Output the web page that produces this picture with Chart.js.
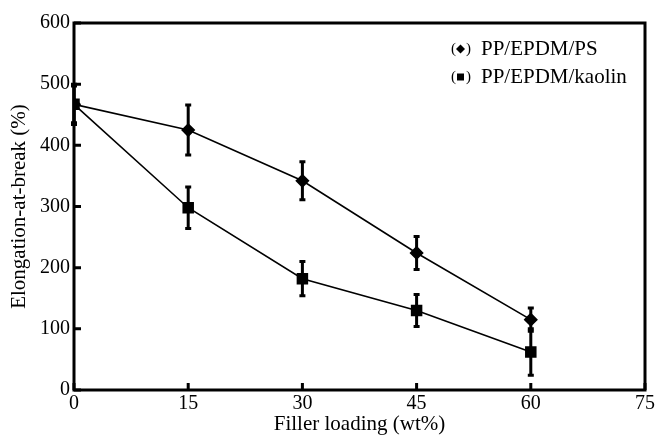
<!DOCTYPE html>
<html lang="en">
<head>
<meta charset="UTF-8">
<title>Elongation-at-break</title>
<script src="https://cdn.jsdelivr.net/npm/chart.js"></script>
<style>
  html, body { margin: 0; padding: 0; background: #fff; }
  #wrap { width: 658px; height: 437px; }
</style>
</head>
<body>
<div id="wrap"><canvas id="chart" width="658" height="437"></canvas></div>
<script>
// filler loading (wt%)
const loading = [0, 15, 30, 45, 60];
const psValues = [467, 425, 342, 224, 115];
const psErrors = [33, 41, 31, 27, 19];
const kaolinValues = [467, 298, 182, 130, 62];
const kaolinErrors = [30, 34, 28, 26, 38];
const xTicks = [0, 15, 30, 45, 60, 75];
const yTicks = [0, 100, 200, 300, 400, 500, 600];

const FONT = 'Liberation Serif, Times New Roman, serif';

// error bars, inward ticks, frame and legend
const extras = {
  id: 'extras',
  afterDatasetsDraw(chart) {
    const ctx = chart.ctx;
    const x = chart.scales.x, y = chart.scales.y;
    const a = chart.chartArea;
    ctx.save();
    ctx.strokeStyle = '#000';
    ctx.lineWidth = 3;
    // error bars
    const bars = [[psValues, psErrors], [kaolinValues, kaolinErrors]];
    bars.forEach(([vals, errs]) => {
      vals.forEach((v, i) => {
        const px = x.getPixelForValue(loading[i]);
        const top = y.getPixelForValue(v + errs[i]);
        const bot = y.getPixelForValue(v - errs[i]);
        ctx.beginPath();
        ctx.moveTo(px, top); ctx.lineTo(px, bot);
        ctx.moveTo(px - 3, top); ctx.lineTo(px + 3, top);
        ctx.moveTo(px - 3, bot); ctx.lineTo(px + 3, bot);
        ctx.stroke();
      });
    });
    // inward ticks
    ctx.beginPath();
    xTicks.forEach(t => {
      const px = x.getPixelForValue(t);
      ctx.moveTo(px, a.bottom); ctx.lineTo(px, a.bottom - 7);
    });
    yTicks.forEach(t => {
      const py = y.getPixelForValue(t);
      ctx.moveTo(a.left, py); ctx.lineTo(a.left + 7, py);
    });
    ctx.stroke();
    // frame
    ctx.strokeRect(a.left, a.top, a.right - a.left, a.bottom - a.top);
    // legend
    ctx.fillStyle = '#000';
    ctx.textBaseline = 'middle';
    const items = [['PP/EPDM/PS', 'rectRot', 49], ['PP/EPDM/kaolin', 'rect', 77]];
    items.forEach(([label, style, ly]) => {
      ctx.font = '15px ' + FONT;
      ctx.fillText('(', 451, ly);
      ctx.fillText(')', 466, ly);
      ctx.font = '21px ' + FONT;
      ctx.fillText(label, 481, ly);
      ctx.beginPath();
      if (style === 'rectRot') {
        ctx.moveTo(460.5, ly - 4.5); ctx.lineTo(465, ly); ctx.lineTo(460.5, ly + 4.5); ctx.lineTo(456, ly);
        ctx.closePath();
      } else {
        ctx.rect(457, ly - 3.5, 7, 7);
      }
      ctx.fill();
    });
    ctx.restore();
  }
};

new Chart(document.getElementById('chart'), {
  type: 'line',
  data: {
    datasets: [
      {
        label: 'PP/EPDM/PS',
        data: loading.map((l, i) => ({ x: l, y: psValues[i] })),
        borderColor: '#000',
        backgroundColor: '#000',
        borderWidth: 1.6,
        pointStyle: 'rectRot',
        pointRadius: 6,
        pointHoverRadius: 6
      },
      {
        label: 'PP/EPDM/kaolin',
        data: loading.map((l, i) => ({ x: l, y: kaolinValues[i] })),
        borderColor: '#000',
        backgroundColor: '#000',
        borderWidth: 1.6,
        pointStyle: 'rect',
        pointRadius: 7,
        pointHoverRadius: 7
      }
    ]
  },
  options: {
    responsive: false,
    animation: false,
    layout: { padding: { top: 23, right: 13, left: 0, bottom: 0 } },
    plugins: { legend: { display: false }, tooltip: { enabled: false } },
    scales: {
      x: {
        type: 'linear',
        min: 0, max: 75,
        afterBuildTicks: s => { s.ticks = xTicks.map(v => ({ value: v })); },
        afterFit: s => { s.height = 47; },
        grid: { display: false, drawTicks: false },
        border: { display: false },
        ticks: { color: '#000', font: { family: FONT, size: 20 }, padding: 2, maxRotation: 0 },
        title: { display: true, text: 'Filler loading (wt%)', color: '#000', font: { family: FONT, size: 21 }, padding: { top: 2, bottom: 0 } }
      },
      y: {
        min: 0, max: 600,
        afterBuildTicks: s => { s.ticks = yTicks.map(v => ({ value: v })); },
        afterFit: s => { s.width = 74; },
        grid: { display: false, drawTicks: false },
        border: { display: false },
        ticks: { color: '#000', font: { family: FONT, size: 20 }, padding: 4 },
        title: { display: true, text: 'Elongation-at-break (%)', color: '#000', font: { family: FONT, size: 21 }, padding: { top: 7, bottom: 0 } }
      }
    }
  },
  plugins: [extras]
});
</script>
</body>
</html>
